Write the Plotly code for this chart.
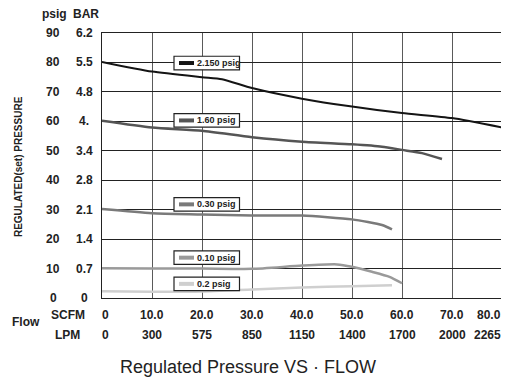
import plotly.graph_objects as go

FONT = "Liberation Sans, Arial, sans-serif"

# set pressures (legend labels) and colours
SERIES = ["2.150 psig", "1.60 psig", "0.30 psig", "0.10 psig", "0.2 psig"]
COLORS = ["#141414", "#555555", "#7a7a7a", "#9a9a9a", "#cfcfcf"]

# flow (SCFM) vs regulated pressure (psig)
FLOW_2150 = [0, 10, 20, 24, 30, 40, 50, 60, 70, 80]
PRES_2150 = [80.2, 76.9, 75.0, 74.3, 71.3, 67.7, 65.0, 62.8, 61.1, 57.9]

FLOW_160 = [0, 10, 20, 30, 40, 50, 56, 60, 64, 68]
PRES_160 = [60.2, 57.9, 56.8, 54.6, 53.1, 52.2, 51.4, 50.3, 49.2, 47.2]

FLOW_030 = [0, 10, 20, 30, 40, 50, 56, 58]
PRES_030 = [30.2, 28.8, 28.4, 28.0, 28.0, 26.7, 24.8, 23.3]

FLOW_010 = [0, 10, 20, 30, 40, 47, 50, 54, 57.5, 60]
PRES_010 = [10.1, 10.0, 10.0, 9.9, 11.0, 11.4, 10.6, 8.9, 7.2, 5.0]

FLOW_02 = [0, 10, 20, 30, 40, 50, 58]
PRES_02 = [2.3, 2.1, 2.2, 2.9, 3.6, 4.0, 4.3]

FLOWS = [FLOW_2150, FLOW_160, FLOW_030, FLOW_010, FLOW_02]
PRESSURES = [PRES_2150, PRES_160, PRES_030, PRES_010, PRES_02]
WIDTHS = [2, 2.5, 2.5, 2.5, 2.5]

# legend box centres (psig)
LEGEND_Y = [79.8, 60.3, 31.8, 13.7, 4.8]

# axis ticks
SCFM_TICKS = [0, 10, 20, 30, 40, 50, 60, 70, 80]
SCFM_TEXT = ["0", "10.0", "20.0", "30.0", "40.0", "50.0", "60.0", "70.0", "80.0"]
LPM_TEXT = ["0", "300", "575", "850", "1150", "1400", "1700", "2000", "2265"]
PSIG_TICKS = [0, 10, 20, 30, 40, 50, 60, 70, 80, 90]
BAR_TEXT = ["0", "0.7", "1.4", "2.1", "2.8", "3.4", "4.", "4.8", "5.5", "6.2"]

TICK_FONT = dict(family=FONT, size=12, color="#222")

fig = go.Figure()

for name, xs, ys, c, w in zip(SERIES, FLOWS, PRESSURES, COLORS, WIDTHS):
    fig.add_trace(
        go.Scatter(
            x=xs,
            y=ys,
            mode="lines",
            name=name,
            line=dict(color=c, width=w, shape="spline", smoothing=0.6),
            hovertemplate="%{x} SCFM<br>%{y} psig<extra>" + name + "</extra>",
        )
    )

# legend boxes inside the plot
for name, c, ly in zip(SERIES, COLORS, LEGEND_Y):
    fig.add_shape(
        type="rect", xref="x", yref="y", x0=14.4, x1=27.5, y0=ly - 2.3, y1=ly + 2.3,
        fillcolor="white", line=dict(color="#222222", width=1.2), layer="above",
    )
    fig.add_shape(
        type="line", xref="x", yref="y", x0=15.4, x1=18.4, y0=ly, y1=ly,
        line=dict(color=c, width=4), layer="above",
    )
    fig.add_annotation(
        x=18.6, y=ly, xref="x", yref="y", text=f"<b>{name}</b>", showarrow=False,
        xanchor="left", yanchor="middle", font=dict(family=FONT, size=9, color="#222"),
    )

# psig and BAR columns
for v, t in zip(PSIG_TICKS, BAR_TEXT):
    fig.add_annotation(
        x=-0.1225, y=v, xref="paper", yref="y", text=f"<b>{v}</b>", showarrow=False,
        xanchor="center", yanchor="middle", font=TICK_FONT,
    )
    fig.add_annotation(
        x=-0.045, y=v, xref="paper", yref="y", text=f"<b>{t}</b>", showarrow=False,
        xanchor="center", yanchor="middle", font=TICK_FONT,
    )

# SCFM and LPM rows
for i, (v, s, l) in enumerate(zip(SCFM_TICKS, SCFM_TEXT, LPM_TEXT)):
    last = i == len(SCFM_TICKS) - 1
    anchor = "right" if last else "center"
    shift = 1 if last else (3 if i == 0 else 0)
    fig.add_annotation(
        x=v, y=-0.064, xref="x", yref="paper", text=f"<b>{s}</b>", showarrow=False,
        xanchor=anchor, yanchor="middle", xshift=shift, font=TICK_FONT,
    )
    fig.add_annotation(
        x=v, y=-0.14, xref="x", yref="paper", text=f"<b>{l}</b>", showarrow=False,
        xanchor=anchor, yanchor="middle", xshift=shift, font=TICK_FONT,
    )

labels = [
    ("psig", -0.12, 1.072),
    ("BAR", -0.04, 1.072),
    ("SCFM", -0.085, -0.064),
    ("LPM", -0.0875, -0.14),
    ("Flow", -0.19, -0.09),
]
for txt, lx, ly in labels:
    fig.add_annotation(
        x=lx, y=ly, xref="paper", yref="paper", text=f"<b>{txt}</b>", showarrow=False,
        xanchor="center", yanchor="middle", font=TICK_FONT,
    )

fig.add_annotation(
    x=-0.21, y=0.494, xref="paper", yref="paper", text="<b>REGULATED(set) PRESSURE</b>",
    showarrow=False, textangle=-90, xanchor="center", yanchor="middle",
    font=dict(family=FONT, size=10, color="#222"),
)

fig.add_annotation(
    x=0.365, y=-0.26, xref="paper", yref="paper", text="Regulated Pressure VS · FLOW",
    showarrow=False, xanchor="center", yanchor="middle",
    font=dict(family=FONT, size=18, color="#222"),
)

fig.update_xaxes(
    range=[0, 80], tickvals=SCFM_TICKS, showticklabels=False, ticks="",
    showgrid=True, gridcolor="#5a5a5a", gridwidth=1.3,
    showline=True, linecolor="#222", linewidth=1.3, mirror=True,
    zeroline=False, automargin=False,
)
fig.update_yaxes(
    range=[0, 90], tickvals=PSIG_TICKS, showticklabels=False, ticks="",
    showgrid=True, gridcolor="#222222", gridwidth=1.3,
    showline=True, linecolor="#222", linewidth=1.3, mirror=True,
    zeroline=False, automargin=False,
)

# the page body adds an 8px margin, so the figure is 8px smaller and shifted
fig.update_layout(
    width=501,
    height=373,
    margin=dict(l=94, r=7, t=25, b=83, autoexpand=False),
    plot_bgcolor="white",
    paper_bgcolor="white",
    showlegend=False,
    font=dict(family=FONT),
)

fig.write_html("out.html")
